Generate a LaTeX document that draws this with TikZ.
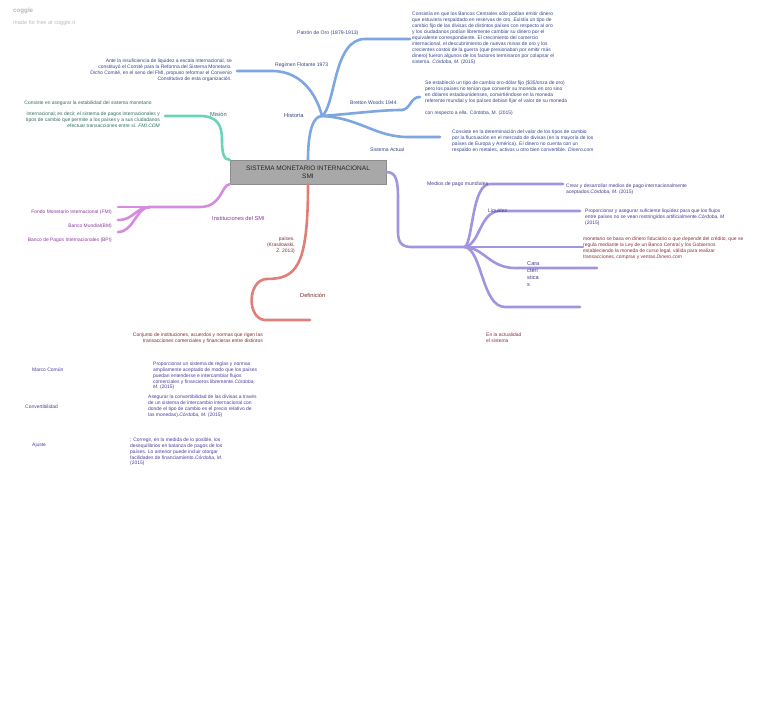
\documentclass[tikz,border=0pt]{standalone}
\usepackage{fontspec}
\setmainfont{Liberation Sans}
\definecolor{hist}{HTML}{7EA6E0}
\definecolor{mis}{HTML}{6AD4B8}
\definecolor{inst}{HTML}{D68BE0}
\definecolor{defc}{HTML}{E07F78}
\definecolor{car}{HTML}{A394E0}
\definecolor{cgray}{HTML}{A8A8A8}
\definecolor{histtxt}{HTML}{34458A}
\definecolor{mistxt}{HTML}{2E6B5E}
\definecolor{insttxt}{HTML}{8B3A9B}
\definecolor{deftxt}{HTML}{7A2E2E}
\definecolor{cartxt}{HTML}{473A8F}
\definecolor{redtxt}{HTML}{8A2F3A}
\definecolor{rowtxt}{HTML}{4B3C9A}
\begin{document}
\begin{tikzpicture}[x=1pt,y=-1pt,
  br/.style={line width=2.6pt, line cap=round},
  tx/.style={inner sep=0pt, font=\fontsize{4.95}{5.75}\selectfont},
  lb/.style={inner sep=0pt, font=\fontsize{5.1}{6}\selectfont},
  mainlb/.style={inner sep=0pt, font=\fontsize{5.7}{6.5}\selectfont}]
\useasboundingbox (0,0) rectangle (768,708);
\fill[white] (0,0) rectangle (768,708);

% logo
\node[inner sep=0pt, anchor=base west, font=\fontsize{6.2}{7}\selectfont\bfseries, text=black!28] (logo) at (13,13) {coggle};
\node[inner sep=0pt, anchor=base west, font=\fontsize{5.6}{6}\selectfont, text=black!25] (made) at (13,25) {made for free at coggle.it};

% central node
\node[draw=black!45, line width=0.4pt, fill=cgray, minimum width=156pt, minimum height=24pt, inner sep=1pt, align=center, text=black!85, font=\fontsize{6.5}{7.6}\selectfont] (smi) at (308,172) {SISTEMA MONETARIO  INTERNACIONAL\\SMI};

% ---------- Historia ----------
\coordinate (hh) at (322,116);
\coordinate (po1) at (365,39); \coordinate (po2) at (410,39);
\coordinate (rf0) at (237,71); \coordinate (rf1) at (272,71);
\coordinate (bw1) at (402,110); \coordinate (bw2) at (420,97);
\coordinate (sa1) at (408,137); \coordinate (sa2) at (440,137);
\draw[br,hist] (smi.north) .. controls (308,135) and (312,116) .. (hh);
\draw[br,hist] (hh) .. controls (336,105) and (333,39) .. (po1) -- (po2);
\draw[br,hist] (rf0) -- (rf1) .. controls (305,71) and (318,100) .. (hh);
\draw[br,hist] (hh) .. controls (350,114) and (380,110) .. (bw1) .. controls (411,109) and (410,97) .. (bw2);
\draw[br,hist] (hh) .. controls (360,118) and (375,137) .. (sa1) -- (sa2);

\node[mainlb, anchor=base west, text=histtxt] (historia) at (284,118) {Historia};
\node[lb, anchor=base west, text=histtxt] (patron) at (297,35) {Patrón de Oro (1879-1913)};
\node[lb, anchor=base west, text=histtxt] (regimen) at (275,67) {Regimen Flotante 1973};
\node[lb, anchor=base west, text=histtxt] (bretton) at (350,105) {Bretton Woods 1944};
\node[lb, anchor=base west, text=histtxt] (actual) at (370,152) {Sistema Actual};

\node[tx, anchor=north west, align=left, text=histtxt, font=\fontsize{4.95}{6.05}\selectfont] (patrond) at (412,11.5) {Consistía en que los Bancos Centrales sólo podían emitir dinero\\que estuviera respaldado en reservas de oro. Existía un tipo de\\cambio fijo de las divisas de distintos países con respecto al oro\\y los ciudadanos podían libremente cambiar su dinero por el\\equivalente correspondiente. El crecimiento del comercio\\internacional, el descubrimiento de nuevas minas de oro y los\\crecientes costos de la guerra (que presionaban por emitir más\\dinero) fueron algunos de los factores terminaron por colapsar el\\sistema.  \textit{Córdoba, M.} (2015)};
\node[tx, anchor=north east, align=right, text=histtxt] (regimend) at (232,59) {Ante la insuficiencia de liquidez a escala internacional, se\\constituyó el Comité para la Reforma del  Sistema Monetario.\\Dicho Comité, en el seno del FMI, propuso reformar el  Convenio\\Constitutivo de esta organización.};
\node[tx, anchor=north west, align=left, text=histtxt] (brettond) at (425,81) {Se estableció un tipo de cambio oro-dólar fijo (\$35/onza de oro)\\pero los países no tenían que convertir su moneda en oro sino\\en dólares estadounidenses, convirtiéndose en la moneda\\referente mundial y los países debían fijar el valor de su  moneda};
\node[tx, anchor=north west, align=left, text=histtxt] (brettond2) at (425,111) {con respecto a ella. Córdoba, M. (2015)};
\node[tx, anchor=north west, align=left, text=histtxt] (actuald) at (452,130) {Consiste en la determinación del valor de los tipos de cambio\\por la fluctuación en el mercado de divisas (en la mayoría de los\\países de Europa y América). El dinero no cuenta con un\\respaldo en metales, activos u otro bien convertible.  \textit{Dinero.com}};

% ---------- Mision ----------
\coordinate (m0) at (165,116); \coordinate (m1) at (200,116); \coordinate (m2) at (222,140);
\draw[br,mis] (m0) -- (m1) .. controls (218,116) and (222,126) .. (m2) .. controls (222,154) and (224,160) .. (smi.north west);
\node[mainlb, anchor=base west, text=mistxt] (mision) at (210,117) {Misión};
\node[tx, anchor=base, text=mistxt] (misiond1) at (88,105) {Consiste en asegurar la estabilidad del sistema monetario};
\node[tx, anchor=north east, align=right, text=mistxt] (misiond2) at (160,112) {internacional; es decir, el sistema de pagos internacionales y\\tipos de cambio que permite a los países y a sus ciudadanos\\efectuar transacciones entre sí.  \textit{FMI.COM}};

% ---------- Instituciones ----------
\coordinate (i1) at (200,207); \coordinate (i0) at (150,207);
\coordinate (f1) at (118,207); \coordinate (f2) at (118,220); \coordinate (f3) at (118,232);
\draw[br,inst] (smi.south west) .. controls (221,185) and (222,207) .. (i1) -- (i0);
\draw[br,inst] (i0) -- (f1);
\draw[br,inst] (i0) .. controls (136,207) and (134,220) .. (f2);
\draw[br,inst] (i0) .. controls (136,207) and (134,232) .. (f3);
\node[mainlb, anchor=base west, text=insttxt] (instit) at (212,221) {Instituciones del SMI};
\node[tx, anchor=base east, text=insttxt] (fmi) at (112,214) {Fondo Monetario Internacional (FMI)};
\node[tx, anchor=base east, text=insttxt] (bm) at (112,228) {Banco Mundial(BM)};
\node[tx, anchor=base east, text=insttxt] (bpi) at (112,242) {Banco de Pagos Internacionales (BPI)};

% ---------- Definicion ----------
\coordinate (d1) at (266,279); \coordinate (d2) at (265,320); \coordinate (d3) at (310,320);
\draw[br,defc] (smi.south) .. controls (308,268) and (296,279) .. (d1) .. controls (247,281) and (247,319) .. (d2) -- (d3);
\node[mainlb, anchor=base west, text=deftxt] (definicion) at (300,298) {Definición};
\node[tx, anchor=north east, align=right, text=deftxt] (defd1) at (295,237) {países.\\(Krasilowski,\\Z.  2013)};
\node[tx, anchor=north east, align=right, text=deftxt] (defd2) at (263,333) {Conjunto de instituciones, acuerdos y normas que rigen las\\transacciones comerciales y financieras entre  distintos};

% ---------- Caracteristicas ----------
\coordinate (c1) at (398,232); \coordinate (c2) at (412,247); \coordinate (ch) at (465,247);
\coordinate (mp1) at (490,184); \coordinate (mp2) at (563,184);
\coordinate (lq1) at (500,211); \coordinate (lq2) at (580,211);
\coordinate (st2) at (583,247);
\coordinate (ca1) at (515,268); \coordinate (ca2) at (597,268);
\coordinate (bt1) at (505,307); \coordinate (bt2) at (580,307);
\draw[br,car] (smi.east) .. controls (397,172) and (398,182) .. (398,200) -- (c1) .. controls (398,244) and (403,247) .. (c2) -- (ch);
\draw[br,car] (ch) .. controls (473,240) and (472,184) .. (mp1) -- (mp2);
\draw[br,car] (ch) .. controls (480,244) and (480,211) .. (lq1) -- (lq2);
\draw[br,car] (ch) -- (st2);
\draw[br,car] (ch) .. controls (484,248) and (490,268) .. (ca1) -- (ca2);
\draw[br,car] (ch) .. controls (482,250) and (482,307) .. (bt1) -- (bt2);
\node[lb, anchor=base west, text=cartxt] (medios) at (427,186) {Medios de pago mundiales};
\node[lb, anchor=base west, text=cartxt] (liquidez) at (488,213) {Liquidez};
\node[inner sep=0pt, anchor=north west, align=left, text=cartxt, font=\fontsize{5.6}{7}\selectfont] (caract) at (527,261) {Cara\\cteri\\stica\\s};
\node[tx, anchor=north west, align=left, text=cartxt] (mediosd) at (566,184) {Crear y desarrollar medios de pago internacionalmente\\aceptados.\textit{Córdoba, M.} (2015)};
\node[tx, anchor=north west, align=left, text=cartxt] (liquidezd) at (585,209) {Proporcionar y asegurar suficiente liquidez para que los flujos\\entre países no se vean restringidos artificialmente.\textit{Córdoba, M}\\(2015)};
\node[tx, anchor=north west, align=left, text=redtxt] (monetd) at (583,237) {monetario se basa en dinero fiduciario o que depende del crédito, que se\\regula mediante la Ley de un Banco Central y los Gobiernos\\estableciendo la moneda de curso legal, válida para realizar\\transacciones, compras y ventas.\textit{Dinero.com}};
\node[tx, anchor=north west, align=left, text=redtxt] (actualidad) at (486,333) {En la actualidad\\el sistema};

% ---------- filas inferiores ----------
\node[tx, anchor=base west, text=rowtxt] (marco) at (32,371) {Marco Común};
\node[tx, anchor=north west, align=left, text=rowtxt] (marcod) at (153,362) {Proporcionar un sistema de reglas y normas\\ampliamente aceptado de modo que los países\\puedan entenderse e intercambiar flujos\\comerciales y financieros libremente.\textit{Córdoba,}\\\textit{M.} (2015)};
\node[tx, anchor=base west, text=rowtxt] (convert) at (25,408) {Convertibilidad};
\node[tx, anchor=north west, align=left, text=rowtxt] (convertd) at (148,395) {Asegurar la convertibilidad de las divisas a través\\de un sistema de intercambio internacional con\\donde el tipo de cambio es el precio relativo de\\las monedas).\textit{Córdoba, M.} (2015)};
\node[tx, anchor=base west, text=rowtxt] (ajuste) at (32,446) {Ajuste};
\node[tx, anchor=north west, align=left, text=rowtxt] (ajusted) at (130,438) {: Corregir, en la medida de lo posible, los\\desequilibrios en balanza de pagos de los\\países. Lo anterior puede incluir otorgar\\facilidades de financiamiento.\textit{Córdoba, M.}\\(2015)};
\end{tikzpicture}
\end{document}
